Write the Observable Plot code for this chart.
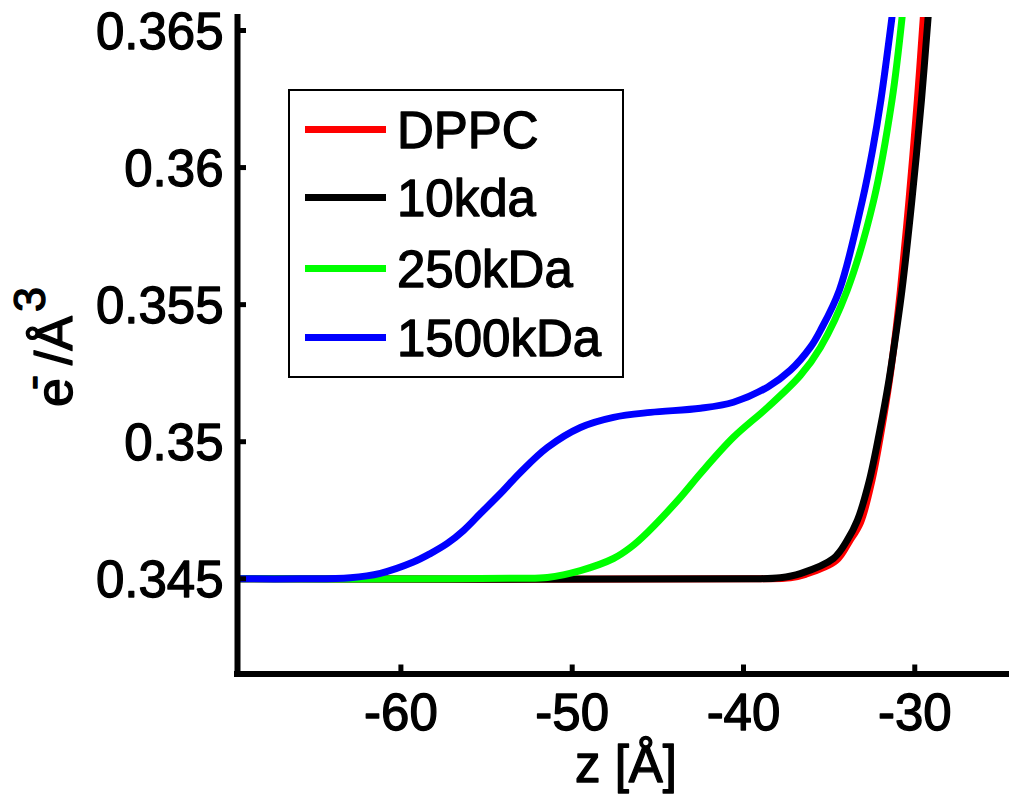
<!DOCTYPE html>
<html><head><meta charset="utf-8">
<script src="https://cdn.jsdelivr.net/npm/d3@7"></script>
<script src="https://cdn.jsdelivr.net/npm/@observablehq/plot@0.6"></script>
<style>
html,body{margin:0;padding:0;background:#fff;}
#chart svg{display:block;}
#chart svg text{stroke:#000;stroke-width:1.3px;stroke-linejoin:round;paint-order:stroke;}
</style>
</head><body><div id="chart"></div>
<script>
// ---- data ----
const seriesNames = ["DPPC", "10kda", "250kDa", "1500kDa"];
const seriesColors = ["#ff0000", "#000000", "#00ff00", "#0000ff"];

const dppcZ   = [-69.54, -39.02, -37.26, -36.38, -34.58, -33.82, -33.17, -32.50, -31.95, -31.48, -31.10, -30.84, -30.34, -29.85, -29.50];
const dppcRho = [0.345, 0.345, 0.34504, 0.34516, 0.34567, 0.34636, 0.34705, 0.34859, 0.35041, 0.35223, 0.35406, 0.35552, 0.35880, 0.36246, 0.36549];

const kda10Z   = [-69.54, -39.60, -37.85, -36.68, -34.75, -33.95, -33.35, -32.65, -32.04, -31.51, -31.07, -30.75, -30.17, -29.61, -29.22];
const kda10Rho = [0.345, 0.345, 0.34504, 0.34519, 0.34574, 0.34640, 0.34713, 0.34859, 0.35041, 0.35223, 0.35406, 0.35552, 0.35880, 0.36246, 0.36549];

const kda250Z   = [-69.54, -57.11, -53.03, -51.45, -49.52, -47.59, -46.60, -45.61, -43.68, -42.51, -40.59, -38.60, -36.68, -35.51, -33.95, -32.40, -31.33, -30.74];
const kda250Rho = [0.345, 0.345, 0.34502, 0.34505, 0.34530, 0.34574, 0.34614, 0.34669, 0.34797, 0.34884, 0.35016, 0.35125, 0.35242, 0.35344, 0.35552, 0.35880, 0.36246, 0.36549];

const kda1500Z   = [-69.54, -65.87, -62.95, -61.20, -59.27, -58.28, -57.29, -56.35, -55.36, -54.19, -53.03, -51.45, -49.52, -47.59, -45.43, -42.51, -40.59, -38.60, -37.26, -36.09, -35.50, -34.40, -33.06, -32.47, -31.98, -31.33];
const kda1500Rho = [0.345, 0.345, 0.34504, 0.34520, 0.34561, 0.34592, 0.34629, 0.34676, 0.34738, 0.34811, 0.34888, 0.34979, 0.35052, 0.35089, 0.35107, 0.35122, 0.35144, 0.35199, 0.35261, 0.35345, 0.35407, 0.35553, 0.35880, 0.36062, 0.36246, 0.36549];

const xTicks = [-60, -50, -40, -30];
const xTickLabels = ["-60", "-50", "-40", "-30"];
const yTicks = [0.345, 0.35, 0.355, 0.36, 0.365];
const yTickLabels = ["0.345", "0.35", "0.355", "0.36", "0.365"];
const xDomain = [-69.54, -24.47];
const yDomain = [0.341527, 0.365474];
const xLabel = "z [Å]";

// ---- build table ----
const allZ = [dppcZ, kda10Z, kda250Z, kda1500Z];
const allRho = [dppcRho, kda10Rho, kda250Rho, kda1500Rho];
const rows = seriesNames.flatMap((name, i) => allZ[i].map((z, j) => ({series: name, z, rho: allRho[i][j]})));

const W = 1009, H = 800;
const FONT = "'Liberation Sans', Arial, Helvetica, sans-serif";

const chart = Plot.plot({
  width: W, height: H,
  marginLeft: 237, marginRight: 0, marginTop: 17, marginBottom: 126.5,
  style: {fontFamily: FONT, fontSize: "51px", background: "#fff", color: "#000", overflow: "visible"},
  x: {domain: xDomain, label: null},
  y: {domain: yDomain, label: null},
  color: {domain: seriesNames, range: seriesColors},
  marks: [
    Plot.line(rows, {x: "z", y: "rho", z: "series", stroke: "series", strokeWidth: 7, curve: "catmull-rom", clip: true}),
    Plot.axisX({ticks: xTicks, tickSize: 9, dy: -9, strokeWidth: 5, tickFormat: () => "", label: null}),
    Plot.axisY({ticks: yTicks, tickSize: 9, dx: 9, strokeWidth: 5, tickFormat: () => "", label: null}),
    Plot.axisX({ticks: xTicks, tickSize: 0, tickPadding: 20, fontSize: 51, tickFormat: d => xTickLabels[xTicks.indexOf(d)], label: null}),
    Plot.axisY({ticks: yTicks, tickSize: 0, tickPadding: 14, dy: 2, fontSize: 51, tickFormat: d => yTickLabels[yTicks.indexOf(d)], label: null}),
    Plot.ruleX([xDomain[0]], {stroke: "#000", strokeWidth: 6, strokeLinecap: "square"}),
    Plot.ruleY([yDomain[0]], {stroke: "#000", strokeWidth: 6, strokeLinecap: "square"})
  ]
});
document.getElementById("chart").appendChild(chart);

const svg = d3.select(chart);

// x-axis title
svg.append("text")
  .attr("x", 626).attr("y", 782)
  .attr("text-anchor", "middle")
  .attr("font-family", FONT).attr("font-size", 51).attr("fill", "#000")
  .text(xLabel);

// y-axis title: e^- / Å^3
const yl = svg.append("text")
  .attr("transform", "translate(72,407) rotate(-90)")
  .attr("text-anchor", "start")
  .attr("font-family", FONT).attr("font-size", 52).attr("fill", "#000");
yl.append("tspan").text("e");
yl.append("tspan").attr("font-size", 45).attr("dx", -12).attr("dy", -25).text("-");
yl.append("tspan").attr("dx", 10).attr("dy", 25).text("/Å");
yl.append("tspan").attr("font-size", 45).attr("dx", 4).attr("dy", -27).text("3");

// legend box
const legend = svg.append("g");
legend.append("rect")
  .attr("x", 289).attr("y", 90).attr("width", 334).attr("height", 287)
  .attr("fill", "#fff").attr("stroke", "#000").attr("stroke-width", 2);
const legendY = [129.5, 197.5, 268.5, 337.5];
seriesNames.forEach((name, i) => {
  legend.append("line")
    .attr("x1", 305).attr("x2", 386).attr("y1", legendY[i]).attr("y2", legendY[i])
    .attr("stroke", seriesColors[i]).attr("stroke-width", 7);
  legend.append("text")
    .attr("x", 397).attr("y", legendY[i] + 18.5)
    .attr("text-anchor", "start")
    .attr("font-family", FONT).attr("font-size", 51).attr("fill", "#000")
    .text(name);
});
</script>
</body></html>
